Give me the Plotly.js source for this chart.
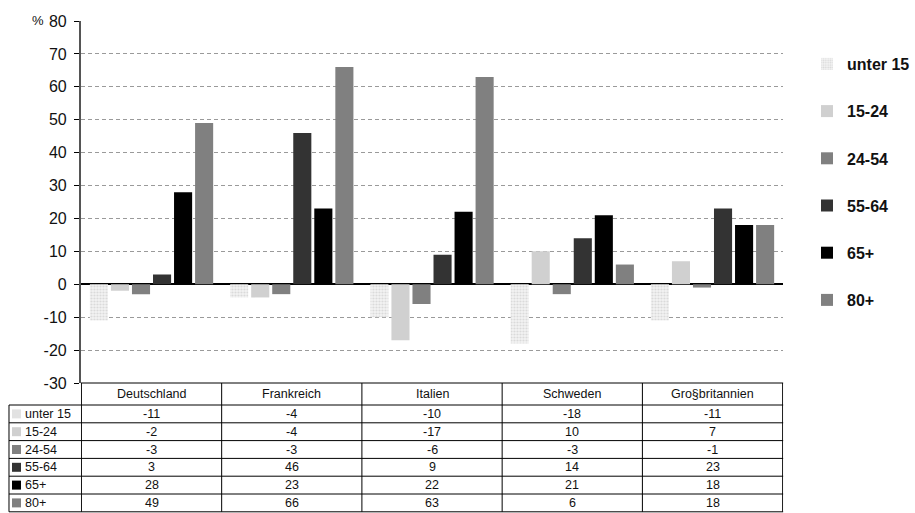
<!DOCTYPE html>
<html>
<head>
<meta charset="utf-8">
<script src="https://cdn.plot.ly/plotly-3.0.1.min.js"></script>
<style>
  html, body { margin: 0; padding: 0; background: #fff; }
  #chart { width: 915px; height: 513px; }
</style>
</head>
<body>
<div id="chart"></div>
<script>
// Veränderung der Bevölkerung nach Altersgruppen, in %
const countries = ['Deutschland', 'Frankreich', 'Italien', 'Schweden', 'Gro§britannien'];
const ageGroups = ['unter 15', '15-24', '24-54', '55-64', '65+', '80+'];

const unter15   = [-11, -4, -10, -18, -11];
const age15to24 = [-2, -4, -17, 10, 7];
const age24to54 = [-3, -3, -6, -3, -1];
const age55to64 = [3, 46, 9, 14, 23];
const age65plus = [28, 23, 22, 21, 18];
const age80plus = [49, 66, 63, 6, 18];

const yTicks = [-30, -20, -10, 0, 10, 20, 30, 40, 50, 60, 70, 80];
const yTickLabels = ['-30', '-20', '-10', '0', '10', '20', '30', '40', '50', '60', '70', '80'];

const seriesValues = [unter15, age15to24, age24to54, age55to64, age65plus, age80plus];
const barColors = ['#eeeeee', '#d0d0d0', '#808080', '#333333', '#000000', '#808080'];
const keyColors = ['#e2e2e2', '#d0d0d0', '#808080', '#333333', '#000000', '#808080'];

const W = 915, H = 513;
const TOP = 21;
const plotH = H - TOP;
const px = v => v / W;
const py = v => 1 - (v - TOP) / plotH;

const font = 'Arial, "Liberation Sans", sans-serif';

const bars = seriesValues.map((vals, k) => {
  const t = {
    type: 'bar',
    name: ageGroups[k],
    legendgroup: 'g' + k,
    x: countries,
    y: vals,
    marker: { color: barColors[k], line: { width: 0 } },
    hoverinfo: 'skip'
  };
  if (k === 0) {
    t.marker.pattern = { shape: '.', size: 3, solidity: 0.4, fgcolor: '#d9d9d9', bgcolor: '#f4f4f4', fillmode: 'replace' };
  }
  return t;
});

// Datentabelle unter dem Diagramm: Linien als Shapes, Inhalte als Annotationen
const tableTop = 383, headerBottom = 405, rowH = 17.8;
const rowCenter = r => headerBottom + rowH * (r + 0.5);
const tableBottom = headerBottom + rowH * ageGroups.length;

const shapes = [];
const line = { color: '#000', width: 1 };
// horizontal lines
shapes.push({ type: 'line', xref: 'paper', yref: 'paper', x0: px(81), x1: px(784), y0: py(tableTop), y1: py(tableTop), line });
for (let r = 0; r <= ageGroups.length; r++) {
  const y = py(headerBottom + rowH * r);
  shapes.push({ type: 'line', xref: 'paper', yref: 'paper', x0: px(9), x1: px(784), y0: y, y1: y, line });
}
// vertical lines: row-label column edge, then category boundaries on the x axis
shapes.push({ type: 'line', xref: 'paper', yref: 'paper', x0: px(9), x1: px(9), y0: py(headerBottom), y1: py(tableBottom), line });
for (let i = 0; i <= countries.length; i++) {
  shapes.push({ type: 'line', xref: 'x', yref: 'paper', x0: i - 0.5, x1: i - 0.5, y0: py(tableTop), y1: py(tableBottom), line });
}
// legend keys in the row labels
ageGroups.forEach((g, r) => {
  const c = rowCenter(r);
  shapes.push({ type: 'rect', xref: 'paper', yref: 'paper',
    x0: px(12), x1: px(21), y0: py(c - 4.5), y1: py(c + 4.5),
    fillcolor: keyColors[r], line: { width: 0 } });
});

const tableFont = { family: font, size: 12.5, color: '#111' };
const annotations = [{
  text: '%', xref: 'paper', yref: 'paper',
  x: px(38), y: py(20), xanchor: 'center', yanchor: 'middle',
  showarrow: false,
  font: { family: font, size: 13, color: '#111' }
}];
countries.forEach((c, i) => {
  annotations.push({ text: c, xref: 'x', yref: 'paper', x: c, y: py((tableTop + headerBottom) / 2),
    xanchor: 'center', yanchor: 'middle', showarrow: false, font: tableFont });
});
ageGroups.forEach((g, r) => {
  annotations.push({ text: g, xref: 'paper', yref: 'paper', x: px(23), y: py(rowCenter(r)),
    xanchor: 'left', yanchor: 'middle', showarrow: false, font: tableFont });
  countries.forEach((c, i) => {
    annotations.push({ text: String(seriesValues[r][i]), xref: 'x', yref: 'paper', x: c, y: py(rowCenter(r)),
      xanchor: 'center', yanchor: 'middle', showarrow: false, font: tableFont });
  });
});

const layout = {
  width: W, height: H,
  margin: { l: 0, r: 0, t: TOP, b: 0, pad: 0 },
  paper_bgcolor: '#ffffff',
  plot_bgcolor: '#ffffff',
  barmode: 'group',
  bargap: 0.1,
  bargroupgap: 0.14,
  showlegend: true,
  legend: {
    x: px(808), xanchor: 'left',
    y: py(47), yanchor: 'top',
    traceorder: 'grouped',
    tracegroupgap: 23.4,
    font: { family: font, size: 16, color: '#111', weight: 'bold' },
    bgcolor: 'rgba(0,0,0,0)'
  },
  xaxis: {
    domain: [px(81), px(784)],
    showticklabels: false,
    showline: false,
    showgrid: false,
    zeroline: false,
    ticks: '',
    fixedrange: true
  },
  yaxis: {
    domain: [py(tableTop), 1],
    range: [-30, 80],
    tickmode: 'array',
    tickvals: yTicks,
    ticktext: yTickLabels,
    ticks: 'outside',
    ticklen: 5,
    tickwidth: 1,
    tickcolor: '#000',
    ticklabelstandoff: 4,
    showline: true,
    linecolor: '#555',
    linewidth: 2,
    showgrid: true,
    gridcolor: '#9a9a9a',
    gridwidth: 1,
    griddash: '4px,3px',
    zeroline: true,
    zerolinecolor: '#000',
    zerolinewidth: 2,
    tickfont: { family: font, size: 16, color: '#111' },
    fixedrange: true
  },
  shapes: shapes,
  annotations: annotations
};

Plotly.newPlot('chart', bars, layout, { displayModeBar: false, staticPlot: true });
</script>
</body>
</html>
